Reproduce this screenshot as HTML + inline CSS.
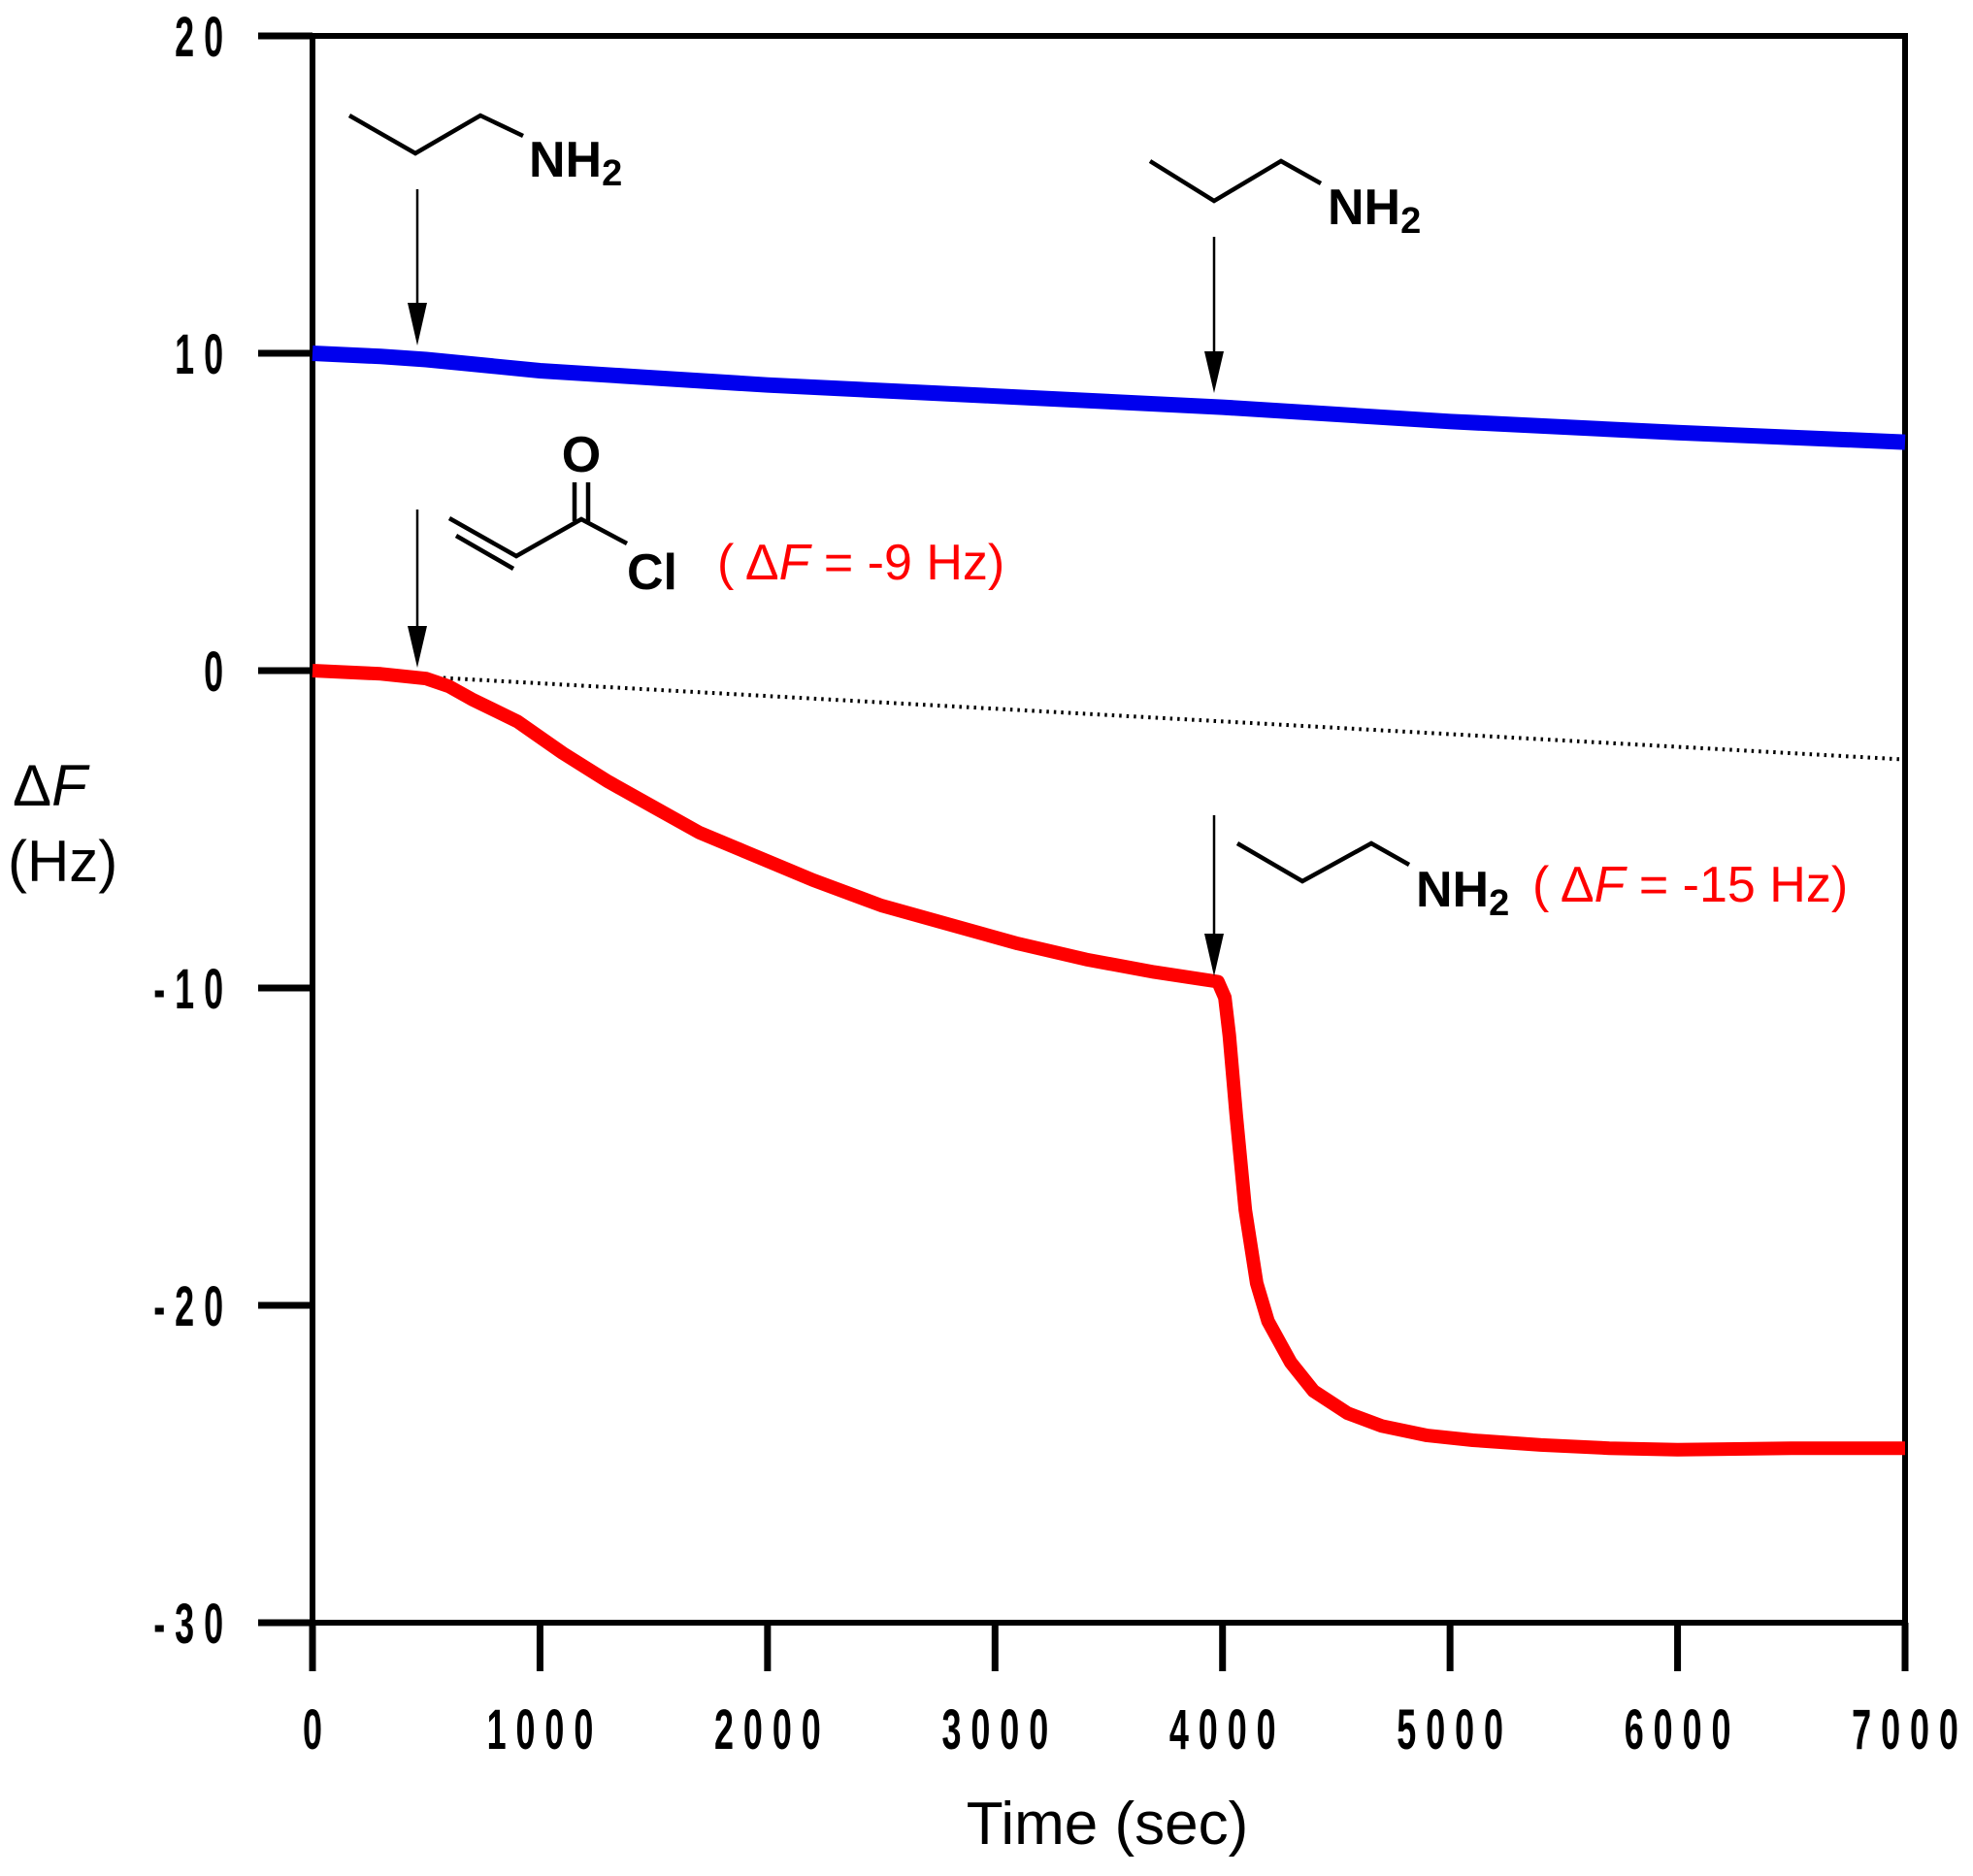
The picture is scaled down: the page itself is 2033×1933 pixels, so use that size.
<!DOCTYPE html>
<html><head><meta charset="utf-8"><style>
html,body{margin:0;padding:0;background:#fff}
svg text{font-family:"Liberation Sans",sans-serif}
</style></head><body>
<svg id="chart" width="2033" height="1928" viewBox="0 0 2033 1928" xmlns="http://www.w3.org/2000/svg">
<g id="axes"></g>
<g id="series"></g>
<g id="annot">
  <g stroke="#000" stroke-width="2.5" fill="#000">
    <line x1="430" y1="195" x2="430" y2="335"/>
    <polygon points="420,312 440,312 430,356" stroke="none"/>
    <line x1="1251" y1="244" x2="1251" y2="385"/>
    <polygon points="1241,362 1261,362 1251,405" stroke="none"/>
    <line x1="430" y1="525" x2="430" y2="668"/>
    <polygon points="420,645 440,645 430,688" stroke="none"/>
    <line x1="1251" y1="840" x2="1251" y2="985"/>
    <polygon points="1241,962 1261,962 1251,1006" stroke="none"/>
  </g>
  <g fill="none" stroke="#000" stroke-width="4.5" stroke-linejoin="miter">
    <polyline points="360,119 428,158 495,119 539,140"/>
    <polyline points="1185,166 1251,207 1320,166 1361,189"/>
    <polyline points="1275,869 1342,908 1413,869 1452,891"/>
    <g>
      <polyline points="463,534 532,573 599,535 646,560"/>
      <line x1="470" y1="552" x2="529" y2="586"/>
      <line x1="592" y1="537" x2="592" y2="497"/>
      <line x1="606" y1="537" x2="606" y2="497"/>
    </g>
  </g>
  <g font-weight="bold" font-size="52" fill="#000">
    <text x="545" y="182">NH<tspan font-size="38" dy="9">2</tspan></text>
    <text x="1368" y="231">NH<tspan font-size="38" dy="9">2</tspan></text>
    <text x="1459" y="934">NH<tspan font-size="38" dy="9">2</tspan></text>
    <text x="599" y="486" text-anchor="middle">O</text>
    <text x="646" y="607">Cl</text>
  </g>
  <g font-size="52" fill="#ff0000">
    <text x="739" y="597">( Δ<tspan font-style="italic">F</tspan> = -9 Hz)</text>
    <text x="1579" y="929">( Δ<tspan font-style="italic">F</tspan> = -15 Hz)</text>
  </g>
  <text x="13" y="830" font-size="60">Δ<tspan font-style="italic">F</tspan></text>
  <text x="8" y="908" font-size="60">(Hz)</text>
  <text x="1141" y="1900" font-size="62" text-anchor="middle">Time (sec)</text>
</g>
</svg>
<script>
const xTicks = [0,1000,2000,3000,4000,5000,6000,7000];
const yTicks = [20,10,0,-10,-20,-30];
const blueTime = [0,300,500,1000,2000,3000,4000,5000,6000,7000];
const blueDF = [10,9.9,9.8,9.45,9.0,8.65,8.3,7.85,7.5,7.2];
const redTime = [0,300,500,600,700,900,1100,1300,1500,1700,1900,2200,2500,2800,3100,3400,3700,3980,4010,4030,4060,4100,4150,4200,4300,4400,4550,4700,4900,5100,5400,5700,6000,6500,7000];
const redDF = [0,-0.1,-0.25,-0.5,-0.9,-1.6,-2.6,-3.5,-4.3,-5.1,-5.7,-6.6,-7.4,-8.0,-8.6,-9.1,-9.5,-9.8,-10.3,-11.5,-14,-17,-19.3,-20.5,-21.8,-22.7,-23.4,-23.8,-24.1,-24.25,-24.4,-24.5,-24.55,-24.5,-24.5];
const baseTime = [0,7000];
const baseDF = [0,-2.8];

const X0=322,X1=1963,Y0=37,Y1=1672;
const xs=t=>X0+(t-0)/7000*(X1-X0);
const ys=v=>Y0+(20-v)/50*(Y1-Y0);
const NS="http://www.w3.org/2000/svg";
function mk(tag,attrs,parent){const e=document.createElementNS(NS,tag);for(const k in attrs)e.setAttribute(k,attrs[k]);parent.appendChild(e);return e;}
const axes=document.getElementById('axes');
const ser=document.getElementById('series');

let frame=mk('rect',{x:X0,y:Y0,width:X1-X0,height:Y1-Y0,fill:'none',stroke:'#000','stroke-width':6},axes);



yTicks.forEach(v=>{
  const l=mk('line',{x1:266,x2:X0,y1:ys(v),y2:ys(v),stroke:'#000','stroke-width':7},axes);
  
  
  const t=mk('text',{x:0,y:0,'font-size':58,'font-weight':'bold','text-anchor':'end','letter-spacing':16,transform:`translate(240,${ys(v)+21}) scale(0.62,1)`},axes);
  t.textContent=String(v);
  
  
});
xTicks.forEach(v=>{
  const l=mk('line',{x1:xs(v),x2:xs(v),y1:Y1,y2:1722,stroke:'#000','stroke-width':7},axes);
  
  
  const t=mk('text',{x:0,y:0,'font-size':58,'font-weight':'bold','text-anchor':'middle','letter-spacing':16,transform:`translate(${xs(v)+5},1802) scale(0.62,1)`},axes);
  t.textContent=String(v);
  
  
});

function path(T,V){return T.map((t,i)=>(i?'L':'M')+xs(t).toFixed(1)+','+ys(V[i]).toFixed(1)).join(' ');}
const base=mk('path',{d:path(baseTime,baseDF),fill:'none',stroke:'#000','stroke-width':4,'stroke-dasharray':'2.5 5'},ser);


const blue=mk('path',{d:path(blueTime,blueDF),fill:'none',stroke:'#0000ee','stroke-width':16},ser);


const red=mk('path',{d:path(redTime,redDF),fill:'none',stroke:'#ff0000','stroke-width':14,'stroke-linejoin':'round'},ser);


</script>
</body></html>
